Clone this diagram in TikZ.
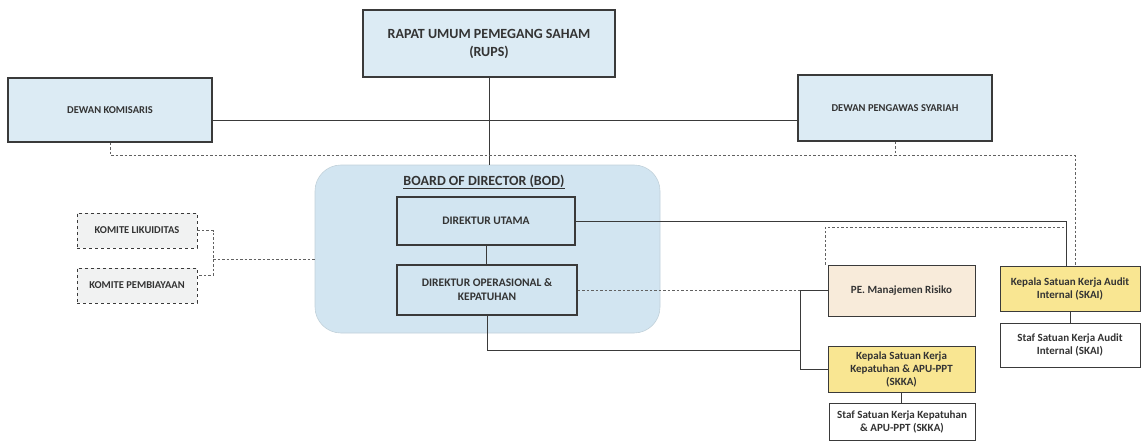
\documentclass[tikz,border=0pt]{standalone}
\usepackage{fontspec}
\setmainfont{Carlito}
\usetikzlibrary{calc}
\definecolor{boxblue}{HTML}{DCEBF4}
\definecolor{bodblue}{HTML}{D2E5F1}
\definecolor{kyellow}{HTML}{F9E692}
\definecolor{peach}{HTML}{F8EBDA}
\definecolor{komgrey}{HTML}{F1F2F2}
\definecolor{txt}{HTML}{333333}
\definecolor{ln}{HTML}{3A3A3A}
\tikzset{
  base/.style={draw=ln, text=txt, font=\bfseries\fontsize{11}{13}\selectfont, align=center, inner sep=2pt},
  topbox/.style={base, fill=boxblue, line width=1.4pt},
  dirbox/.style={base, fill=bodblue, line width=1.4pt},
  yelbox/.style={base, fill=kyellow, line width=0.8pt},
  pebox/.style={base, fill=peach, line width=0.8pt},
  stafbox/.style={base, fill=white, line width=0.6pt},
  kombox/.style={base, fill=komgrey, dashed, line width=0.8pt, font=\bfseries\fontsize{10.5}{12}\selectfont},
  sl/.style={draw=ln, line width=0.8pt},
  dl/.style={draw=ln!80, line width=0.8pt, dash pattern=on 2.5pt off 2pt},
}
\begin{document}
\begin{tikzpicture}[x=1pt,y=-1pt]
\useasboundingbox (0,0) rectangle (1145,441);
% BOD container
\node[draw=bodblue!80!gray, fill=bodblue, rounded corners=26pt, minimum width=345pt, minimum height=168pt, line width=0.6pt] (BOD) at (487.5,249) {};
\node[text=txt, font=\bfseries\fontsize{14}{16}\selectfont] (BODt) at (484,182) {\underline{BOARD OF DIRECTOR (BOD)}};
% top boxes
\node[topbox, minimum width=252pt, minimum height=67pt, font=\bfseries\fontsize{14}{18}\selectfont] (RUPS) at (489,43.5) {RAPAT UMUM PEMEGANG SAHAM\\(RUPS)};
\node[topbox, minimum width=204pt, minimum height=64pt, font=\bfseries\fontsize{10.5}{12}\selectfont] (DK) at (110,110) {DEWAN KOMISARIS};
\node[topbox, minimum width=194pt, minimum height=66pt, font=\bfseries\fontsize{10.5}{12}\selectfont] (DPS) at (895,108) {DEWAN PENGAWAS SYARIAH};
% directors
\node[dirbox, minimum width=178pt, minimum height=48pt, font=\bfseries\fontsize{11.5}{13}\selectfont] (DU) at (486,221) {DIREKTUR UTAMA};
\node[dirbox, minimum width=180pt, minimum height=50pt, font=\bfseries\fontsize{11.5}{14}\selectfont] (DO) at (487,290) {DIREKTUR OPERASIONAL \&\\KEPATUHAN};
% committees
\node[kombox, minimum width=120pt, minimum height=35pt] (KL) at (137,230.5) {KOMITE LIKUIDITAS};
\node[kombox, minimum width=120pt, minimum height=35pt] (KP) at (137,285.5) {KOMITE PEMBIAYAAN};
% right side
\node[pebox, minimum width=147pt, minimum height=51pt] (PE) at (901.5,290.5) {PE. Manajemen Risiko};
\node[yelbox, minimum width=147pt, minimum height=46pt] (SKKA) at (901.5,369) {Kepala Satuan Kerja\\Kepatuhan \& APU-PPT\\(SKKA)};
\node[stafbox, minimum width=146pt, minimum height=37pt] (SSKKA) at (902,421.5) {Staf Satuan Kerja Kepatuhan\\\& APU-PPT (SKKA)};
\node[yelbox, minimum width=140pt, minimum height=45pt] (SKAI) at (1070,288.5) {Kepala Satuan Kerja Audit\\Internal (SKAI)};
\node[stafbox, minimum width=140pt, minimum height=44pt] (SSKAI) at (1070,345) {Staf Satuan Kerja Audit\\Internal (SKAI)};
% coordinates
\coordinate (dr) at (1075,155);
\coordinate (ur) at (1066,219);
\coordinate (pc) at (825,227);
\coordinate (bx) at (800,350);
\coordinate (kx) at (213,259);
% solid connectors
\draw[sl] (RUPS.south) -- (RUPS.south |- BOD.north);
\draw[sl] ([yshift=-10pt]DK.east) -- ([yshift=-10pt]DK.east -| DPS.west);
\draw[sl] (DU.south) -- (DU.south |- DO.north);
\draw[sl] (DU.east) -- (DU.east -| ur) -- (ur |- SKAI.north);
\draw[sl] (DO.south) |- (bx);
\draw[sl] (PE.west) -- (PE.west -| bx) -- (bx |- SKKA.west) -- (SKKA.west);
\draw[sl] (SKKA.south) -- (SKKA.south |- SSKKA.north);
\draw[sl] (SKAI.south) -- (SKAI.south |- SSKAI.north);
% dashed connectors
\draw[dl] (DK.south) |- (dr) -- (dr |- SKAI.north);
\draw[dl] (DPS.south) -- (DPS.south |- dr);
\draw[dl] (DO.east) -- (DO.east -| bx);
\draw[dl] (PE.north west -| pc) -- (pc) -- (pc -| ur);
\draw[dl] (KL.east) -- (KL.east -| kx) -- ([yshift=10pt]kx |- KP.east) -- ([yshift=10pt]KP.east);
\draw[dl] (kx) -- (kx -| BOD.west);
\end{tikzpicture}
\end{document}
